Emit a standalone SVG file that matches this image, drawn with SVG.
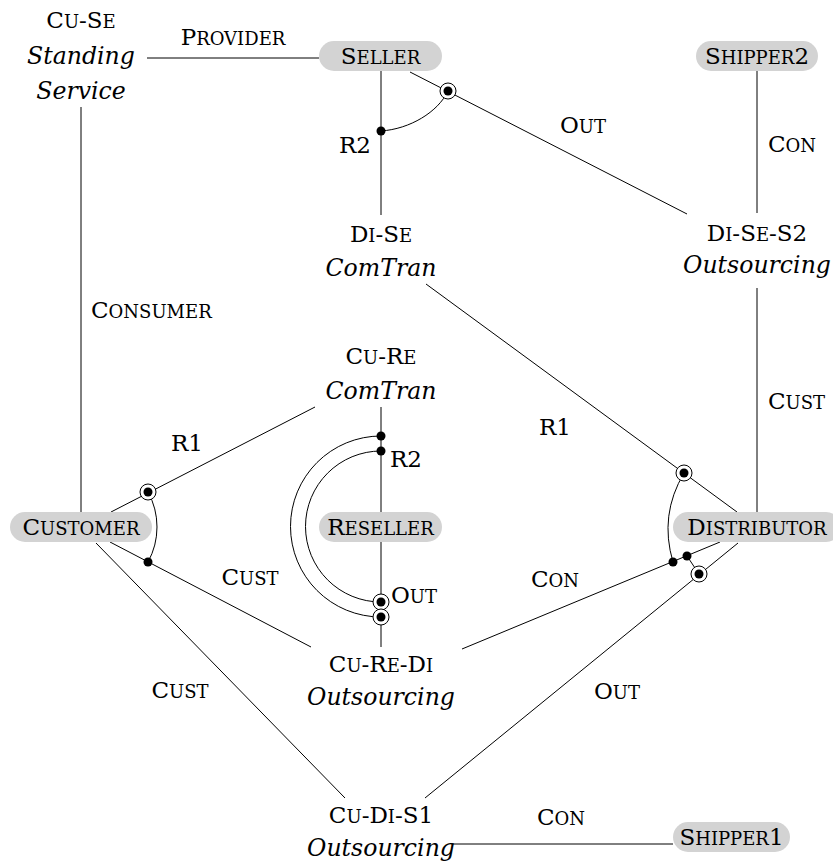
<svg xmlns="http://www.w3.org/2000/svg" xmlns:xlink="http://www.w3.org/1999/xlink" width="833" height="865" viewBox="0 0 833 865">
<style>
text{font-family:"DejaVu Serif","Liberation Serif",serif;font-size:23px;fill:#000}
.sc{font-size:18px;text-transform:uppercase}
.it{font-style:italic;font-size:23.6px}
.m{text-anchor:middle}
.ln{stroke:#000;stroke-width:1;fill:none}
.pill{fill:#d3d3d3}
.ring{fill:#fff;stroke:#000;stroke-width:1}
</style>
<defs>
<circle id="fdot" r="4.5" fill="#000"/>
<g id="cdot"><circle r="8" class="ring"/><circle r="4.5" fill="#000"/></g>
</defs>
<g id="connectors">
<path class="ln" d="M147,58 H319"/>
<path class="ln" d="M381,71 V215"/>
<path class="ln" d="M410,72 L687,214"/>
<path class="ln" d="M757,71 V213"/>
<path class="ln" d="M81,107 V512"/>
<path class="ln" d="M426,284 L737,512"/>
<path class="ln" d="M757,288 V512"/>
<path class="ln" d="M111,512 L315,407"/>
<path class="ln" d="M381,407 V647"/>
<path class="ln" d="M110,542 L311,647"/>
<path class="ln" d="M96,543 L345,798"/>
<path class="ln" d="M462,649 L720,542"/>
<path class="ln" d="M425,798 L738,543"/>
<path class="ln" d="M452,844 H673"/>
<path class="ln" d="M381,131 C410,129 438,112 448,91"/>
<path class="ln" d="M148,492 A72.6,72.6 0 0 1 148,562"/>
<path class="ln" d="M381,436 A90.5,90.5 0 0 0 381,617"/>
<path class="ln" d="M381,451 A75.5,75.5 0 0 0 381,602"/>
<path class="ln" d="M684,473 Q659,515 673,562"/>
<path class="ln" d="M687,556 L699,574"/>
<use xlink:href="#fdot" x="381" y="131"/>
<use xlink:href="#cdot" x="448" y="91"/>
<use xlink:href="#cdot" x="148" y="492"/>
<use xlink:href="#fdot" x="148" y="562"/>
<use xlink:href="#fdot" x="381" y="436"/>
<use xlink:href="#fdot" x="381" y="451"/>
<use xlink:href="#cdot" x="381" y="602"/>
<use xlink:href="#cdot" x="381" y="617"/>
<use xlink:href="#cdot" x="684" y="473"/>
<use xlink:href="#fdot" x="673" y="562"/>
<use xlink:href="#fdot" x="687" y="556"/>
<use xlink:href="#cdot" x="699" y="574"/>
<text class="m" x="233" y="45">P<tspan class="sc">rovider</tspan></text>
<text class="m" x="355" y="153">R2</text>
<text class="m" x="583" y="133">O<tspan class="sc">ut</tspan></text>
<text x="768" y="152">C<tspan class="sc">on</tspan></text>
<text x="91" y="318">C<tspan class="sc">onsumer</tspan></text>
<text x="768" y="409">C<tspan class="sc">ust</tspan></text>
<text class="m" x="555" y="435">R1</text>
<text class="m" x="187" y="451">R1</text>
<text x="390" y="467">R2</text>
<text x="391" y="603">O<tspan class="sc">ut</tspan></text>
<text class="m" x="250" y="585">C<tspan class="sc">ust</tspan></text>
<text class="m" x="180" y="698">C<tspan class="sc">ust</tspan></text>
<text class="m" x="555" y="587">C<tspan class="sc">on</tspan></text>
<text class="m" x="617" y="699">O<tspan class="sc">ut</tspan></text>
<text class="m" x="561" y="825">C<tspan class="sc">on</tspan></text>
</g>
<g id="seller"><rect class="pill" x="319" y="41" width="123" height="30" rx="15"/><text class="m" x="380.5" y="64">S<tspan class="sc">eller</tspan></text></g>
<g id="shipper2"><rect class="pill" x="696" y="41" width="122" height="30" rx="15"/><text class="m" x="757" y="64">S<tspan class="sc">hipper</tspan>2</text></g>
<g id="customer"><rect class="pill" x="10" y="512" width="142" height="30" rx="15"/><text class="m" x="81" y="535">C<tspan class="sc">ustomer</tspan></text></g>
<g id="reseller"><rect class="pill" x="319" y="512" width="123" height="30" rx="15"/><text class="m" x="380.5" y="535">R<tspan class="sc">eseller</tspan></text></g>
<g id="distributor"><rect class="pill" x="673" y="512" width="168" height="30" rx="15"/><text class="m" x="757" y="535">D<tspan class="sc">istributor</tspan></text></g>
<g id="shipper1"><rect class="pill" x="673" y="822" width="117" height="30" rx="15"/><text class="m" x="731.5" y="845">S<tspan class="sc">hipper</tspan>1</text></g>
<g id="cu-se"><text class="m" x="81" y="28">C<tspan class="sc">u</tspan>-S<tspan class="sc">e</tspan></text><text class="m it" x="81" y="64">Standing</text><text class="m it" x="81" y="99">Service</text></g>
<g id="di-se"><text class="m" x="381" y="242">D<tspan class="sc">i</tspan>-S<tspan class="sc">e</tspan></text><text class="m it" x="381" y="276">ComTran</text></g>
<g id="di-se-s2"><text class="m" x="757" y="241">D<tspan class="sc">i</tspan>-S<tspan class="sc">e</tspan>-S2</text><text class="m it" x="757" y="273">Outsourcing</text></g>
<g id="cu-re"><text class="m" x="381" y="364">C<tspan class="sc">u</tspan>-R<tspan class="sc">e</tspan></text><text class="m it" x="381" y="399">ComTran</text></g>
<g id="cu-re-di"><text class="m" x="381" y="672">C<tspan class="sc">u</tspan>-R<tspan class="sc">e</tspan>-D<tspan class="sc">i</tspan></text><text class="m it" x="381" y="705">Outsourcing</text></g>
<g id="cu-di-s1"><text class="m" x="381" y="823">C<tspan class="sc">u</tspan>-D<tspan class="sc">i</tspan>-S1</text><text class="m it" x="381" y="856">Outsourcing</text></g>
</svg>
